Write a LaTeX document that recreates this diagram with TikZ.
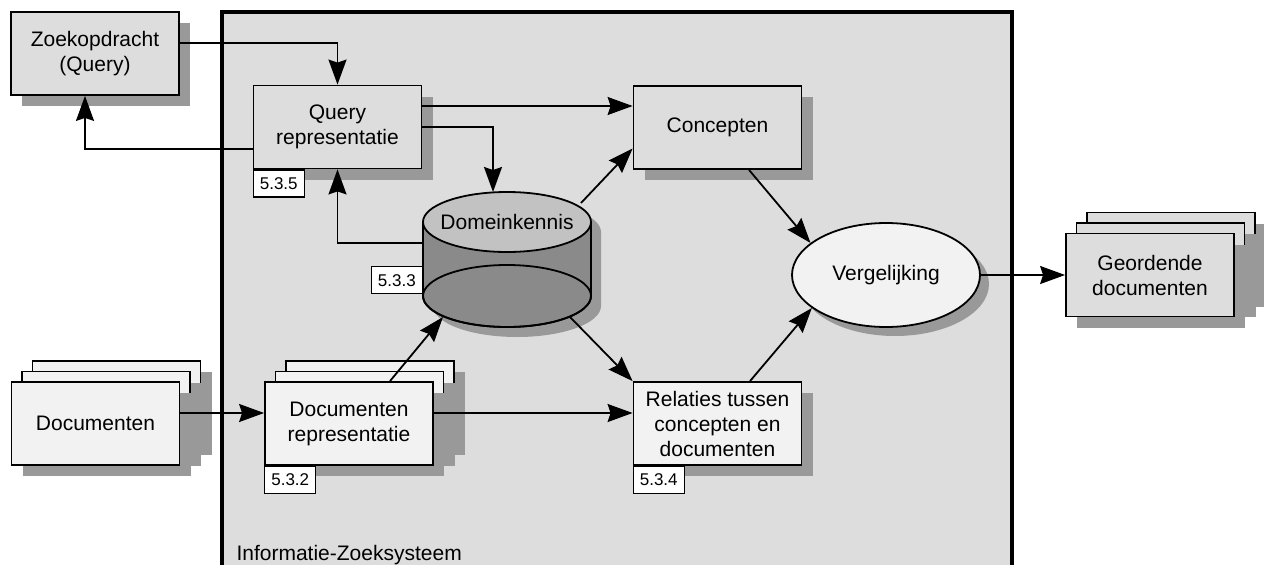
\documentclass[tikz,border=0pt]{standalone}
\usepackage{fontspec}
\setmainfont{Liberation Sans}
\usetikzlibrary{arrows.meta,shapes.geometric,shadows,calc}

\definecolor{panel}{HTML}{DDDDDD}
\definecolor{paper}{HTML}{F2F2F2}
\definecolor{shadowgray}{HTML}{999999}
\definecolor{cyltop}{HTML}{C2C2C2}
\definecolor{cylbody}{HTML}{8A8A8A}

\newcommand\mainfs{\fontsize{21}{25}\selectfont}
\newcommand\tagfs{\fontsize{17}{20}\selectfont}

\begin{document}
\begin{tikzpicture}[x=1pt,y=-1pt,
  shadowed/.style={drop shadow={shadow xshift=11pt,shadow yshift=-11pt,fill=shadowgray,opacity=1}},
  box/.style={draw,line width=1.8pt,minimum width=168pt,minimum height=83pt,
              inner sep=0pt,align=center,font=\mainfs,shadowed},
  darkbox/.style={box,fill=panel},
  lightbox/.style={box,fill=paper},
  tag/.style={draw,fill=white,line width=1.3pt,minimum width=51pt,minimum height=27pt,
              inner sep=0pt,font=\tagfs},
  arr/.style={line width=1.8pt,-{Stealth[length=25pt,width=18pt,inset=3pt]}}]

\useasboundingbox (0,0) rectangle (1264,565);
\clip (0,0) rectangle (1264,565);

% system frame
\draw[line width=4pt,fill=panel] (222,12) rectangle (1012,620);
\node[anchor=base west,font=\mainfs] (sys) at (233,560) {Informatie-Zoeksysteem};

% query side
\node[darkbox] (zq) at (95,53.5) {Zoekopdracht\\(Query)};
\node[darkbox] (qr) at (337.5,127) {Query\\representatie};
\node[tag,anchor=north west] (t535) at (qr.south west) {5.3.5};

\node[darkbox] (cc) at (717.5,127.5) {Concepten};

% document stacks
\node[lightbox] (dc3) at (116.5,402.5) {};
\node[lightbox] (dc2) at (106,413) {};
\node[lightbox] (dc) at (95.5,423.5) {Documenten};

\node[lightbox] (dr3) at (370,402.5) {};
\node[lightbox] (dr2) at (359.5,413) {};
\node[lightbox] (dr) at (349,423.5) {Documenten\\representatie};
\node[tag,anchor=north west] (t532) at (dr.south west) {5.3.2};

\node[lightbox] (rt) at (717.5,423.5) {Relaties tussen\\concepten en\\documenten};
\node[tag,anchor=north west] (t534) at (rt.south west) {5.3.4};

\node[darkbox] (gd3) at (1171,254) {};
\node[darkbox] (gd2) at (1160.5,264.5) {};
\node[darkbox] (gd) at (1150,275) {Geordende\\documenten};

\node[ellipse,draw,line width=1.8pt,fill=paper,minimum width=188pt,minimum height=104pt,
      inner sep=0pt,font=\mainfs,
      drop shadow={shadow xshift=9pt,shadow yshift=-9pt,fill=shadowgray,opacity=1}]
      (ve) at (886,275) {Vergelijking};

% knowledge base cylinder
\fill[shadowgray] (433,232) -- (433,306) arc[start angle=180,end angle=0,x radius=84,y radius=31]
  -- (601,232) arc[start angle=0,end angle=-180,x radius=84,y radius=30] -- cycle;
\filldraw[fill=cylbody,line width=1.8pt] (423,222) -- (423,296)
  arc[start angle=180,end angle=0,x radius=84,y radius=31] -- (591,222);
\draw[line width=1.8pt] (507,296) ellipse[x radius=84,y radius=31];
\filldraw[fill=cyltop,line width=1.8pt] (507,222) ellipse[x radius=84,y radius=30];
\node[font=\mainfs] (dk) at (507,222) {Domeinkennis};
\node[tag,anchor=north east] (t533) at (423,266) {5.3.3};

\coordinate (dkw) at (423,243);
\coordinate (dkt) at (493,192);
\coordinate (dkne) at (581,203);
\coordinate (dkse) at (570,317);
\coordinate (dksw) at (443,317);

% connectors
\draw[arr] ([yshift=10.5pt]zq.east) -| (qr.north);
\draw[arr] ([yshift=-22pt]qr.west) -| ([xshift=-10pt]zq.south);
\draw[arr] (dkw) -| (qr.south);
\draw[arr] ([yshift=21pt]qr.east) -- ([yshift=21pt]qr.east -| cc.west);
\draw[arr] (qr.east) -| (dkt);
\draw[arr] (dkne) -- ([yshift=-21pt]cc.west);
\draw[arr] (dkse) -- (rt.north west);
\draw[arr] ([xshift=31.5pt]cc.south) -- (ve.157);
\draw[arr] ([xshift=32.5pt]rt.north) -- (ve.204);
\draw[arr] (ve.east) -- (gd.west);
\draw[arr] ([yshift=10.5pt]dc.east) -- ([yshift=10.5pt]dc.east -| dr.west);
\draw[arr] ([yshift=10.5pt]dr.east) -- ([yshift=10.5pt]dr.east -| rt.west);
\draw[arr] ([xshift=41pt]dr.north) -- (dksw);

\end{tikzpicture}
\end{document}
